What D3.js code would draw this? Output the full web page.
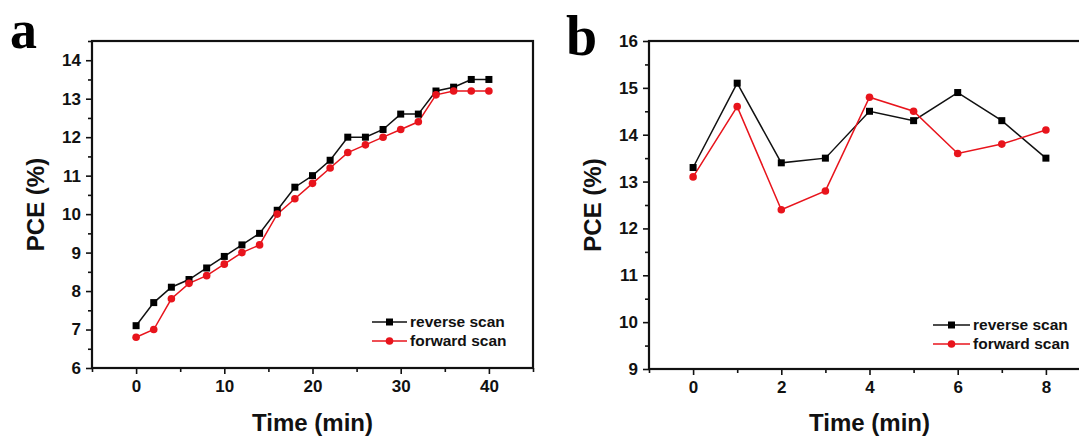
<!DOCTYPE html>
<html>
<head>
<meta charset="utf-8">
<script src="https://cdn.jsdelivr.net/npm/d3@7"></script>
<style>
  body { margin: 0; background: #fff; }
  svg { display: block; font-family: "Liberation Sans", Arial, sans-serif; }
</style>
</head>
<body>
<div id="chart"></div>
<script>
// panel a
const timeA = [0, 2, 4, 6, 8, 10, 12, 14, 16, 18, 20, 22, 24, 26, 28, 30, 32, 34, 36, 38, 40];
const reverseA = [7.1, 7.7, 8.1, 8.3, 8.6, 8.9, 9.2, 9.5, 10.1, 10.7, 11.0, 11.4, 12.0, 12.0, 12.2, 12.6, 12.6, 13.2, 13.3, 13.5, 13.5];
const forwardA = [6.8, 7.0, 7.8, 8.2, 8.4, 8.7, 9.0, 9.2, 10.0, 10.4, 10.8, 11.2, 11.6, 11.8, 12.0, 12.2, 12.4, 13.1, 13.2, 13.2, 13.2];
const xTicksA = [0, 10, 20, 30, 40];
const yTicksA = [6, 7, 8, 9, 10, 11, 12, 13, 14];

// panel b
const timeB = [0, 1, 2, 3, 4, 5, 6, 7, 8];
const reverseB = [13.3, 15.1, 13.4, 13.5, 14.5, 14.3, 14.9, 14.3, 13.5];
const forwardB = [13.1, 14.6, 12.4, 12.8, 14.8, 14.5, 13.6, 13.8, 14.1];
const xTicksB = [0, 2, 4, 6, 8];
const yTicksB = [9, 10, 11, 12, 13, 14, 15, 16];

const seriesNames = ["reverse scan", "forward scan"];
const red = "#e8141c";

const width = 1079, height = 437;
const svg = d3.select("#chart").append("svg")
  .attr("width", width)
  .attr("height", height);

drawPanel({
  label: "a", labelX: 10, labelY: 48, labelSize: 54,
  box: { left: 92, right: 533, top: 41, bottom: 368 },
  xDomain: [-5, 45], yDomain: [6, 14.5],
  xTicks: xTicksA, yTicks: yTicksA, xMinorStep: 5, yMinorStep: 0.5,
  x: timeA, rev: reverseA, fwd: forwardA,
  yTitleX: 36, legend: { x1: 372, x2: 407, y: 322 }
});

drawPanel({
  label: "b", labelX: 566, labelY: 55, labelSize: 56,
  box: { left: 649, right: 1090, top: 41, bottom: 369 },
  xDomain: [-1, 9], yDomain: [9, 16],
  xTicks: xTicksB, yTicks: yTicksB, xMinorStep: 1, yMinorStep: 0.5,
  x: timeB, rev: reverseB, fwd: forwardB,
  yTitleX: 593, legend: { x1: 933, x2: 970, y: 325 }
});

function drawPanel(p) {
  const g = svg.append("g");
  const b = p.box;
  const fmt = d3.format("d");

  const x = d3.scaleLinear().domain(p.xDomain).range([b.left, b.right]);
  const y = d3.scaleLinear().domain(p.yDomain).range([b.bottom, b.top]);

  const xMinor = d3.range(p.xDomain[0], p.xDomain[1] + 0.001, p.xMinorStep)
    .filter((v) => !p.xTicks.includes(v));
  const yMinor = d3.range(p.yDomain[0], p.yDomain[1] + 0.001, p.yMinorStep)
    .filter((v) => !p.yTicks.includes(v));

  //minor ticks
  g.append("g")
    .attr("transform", `translate(0,${b.bottom})`)
    .call(d3.axisBottom(x).tickValues(xMinor).tickSize(4).tickFormat(""))
    .call((a) => a.select(".domain").remove());
  g.append("g")
    .attr("transform", `translate(${b.left},0)`)
    .call(d3.axisLeft(y).tickValues(yMinor).tickSize(4).tickFormat(""))
    .call((a) => a.select(".domain").remove());

  //major ticks
  const xAxis = g.append("g")
    .attr("transform", `translate(0,${b.bottom})`)
    .call(d3.axisBottom(x).tickValues(p.xTicks).tickFormat(fmt).tickSize(6).tickPadding(6));
  const yAxis = g.append("g")
    .attr("transform", `translate(${b.left},0)`)
    .call(d3.axisLeft(y).tickValues(p.yTicks).tickFormat(fmt).tickSize(6).tickPadding(5));

  [xAxis, yAxis].forEach((a) => {
    a.select(".domain").remove();
    a.selectAll("text")
      .attr("font-size", 17)
      .attr("font-weight", "bold")
      .attr("fill", "#111");
  });
  g.selectAll(".tick line").attr("stroke", "#111").attr("stroke-width", 1.6);

  //frame
  g.append("rect")
    .attr("x", b.left).attr("y", b.top)
    .attr("width", b.right - b.left).attr("height", b.bottom - b.top)
    .attr("fill", "none").attr("stroke", "#111").attr("stroke-width", 2.2);

  //lines
  const line = d3.line().x((d) => x(d[0])).y((d) => y(d[1]));
  const revData = p.x.map((t, i) => [t, p.rev[i]]);
  const fwdData = p.x.map((t, i) => [t, p.fwd[i]]);

  g.append("path").datum(revData)
    .attr("d", line).attr("fill", "none")
    .attr("stroke", "#111").attr("stroke-width", 1.5);
  g.append("path").datum(fwdData)
    .attr("d", line).attr("fill", "none")
    .attr("stroke", red).attr("stroke-width", 1.5);

  g.selectAll("rect.sq").data(revData).join("rect")
    .attr("class", "sq")
    .attr("x", (d) => x(d[0]) - 3.5).attr("y", (d) => y(d[1]) - 3.5)
    .attr("width", 7).attr("height", 7).attr("fill", "#000");
  g.selectAll("circle.dot").data(fwdData).join("circle")
    .attr("class", "dot")
    .attr("cx", (d) => x(d[0])).attr("cy", (d) => y(d[1]))
    .attr("r", 3.8).attr("fill", red);

  //legend
  const L = p.legend;
  const rows = [
    { name: seriesNames[0], color: "#111", y: L.y },
    { name: seriesNames[1], color: red, y: L.y + 19 }
  ];
  rows.forEach((r, i) => {
    g.append("line")
      .attr("x1", L.x1).attr("x2", L.x2).attr("y1", r.y).attr("y2", r.y)
      .attr("stroke", r.color).attr("stroke-width", 1.5);
    const mx = (L.x1 + L.x2) / 2;
    if (i === 0) {
      g.append("rect").attr("x", mx - 3.5).attr("y", r.y - 3.5)
        .attr("width", 7).attr("height", 7).attr("fill", "#000");
    } else {
      g.append("circle").attr("cx", mx).attr("cy", r.y).attr("r", 3.8).attr("fill", red);
    }
    g.append("text")
      .attr("x", L.x2 + 3).attr("y", r.y)
      .attr("dy", "0.35em")
      .attr("font-size", 15.5).attr("font-weight", "bold").attr("fill", "#111")
      .text(r.name);
  });

  //axis titles
  g.append("text")
    .attr("x", (b.left + Math.min(b.right, 1090)) / 2).attr("y", 431)
    .attr("text-anchor", "middle")
    .attr("font-size", 24).attr("font-weight", "bold").attr("fill", "#111")
    .text("Time (min)");
  g.append("text")
    .attr("transform", `translate(${p.yTitleX},${(b.top + b.bottom) / 2}) rotate(-90)`)
    .attr("text-anchor", "middle").attr("dy", "0.35em")
    .attr("font-size", 24).attr("font-weight", "bold").attr("fill", "#111")
    .text("PCE (%)");

  //panel label
  g.append("text")
    .attr("x", p.labelX).attr("y", p.labelY)
    .attr("font-family", "'Liberation Serif', 'Times New Roman', serif")
    .attr("font-size", p.labelSize).attr("font-weight", "bold").attr("fill", "#000")
    .text(p.label);
}
</script>
</body>
</html>
